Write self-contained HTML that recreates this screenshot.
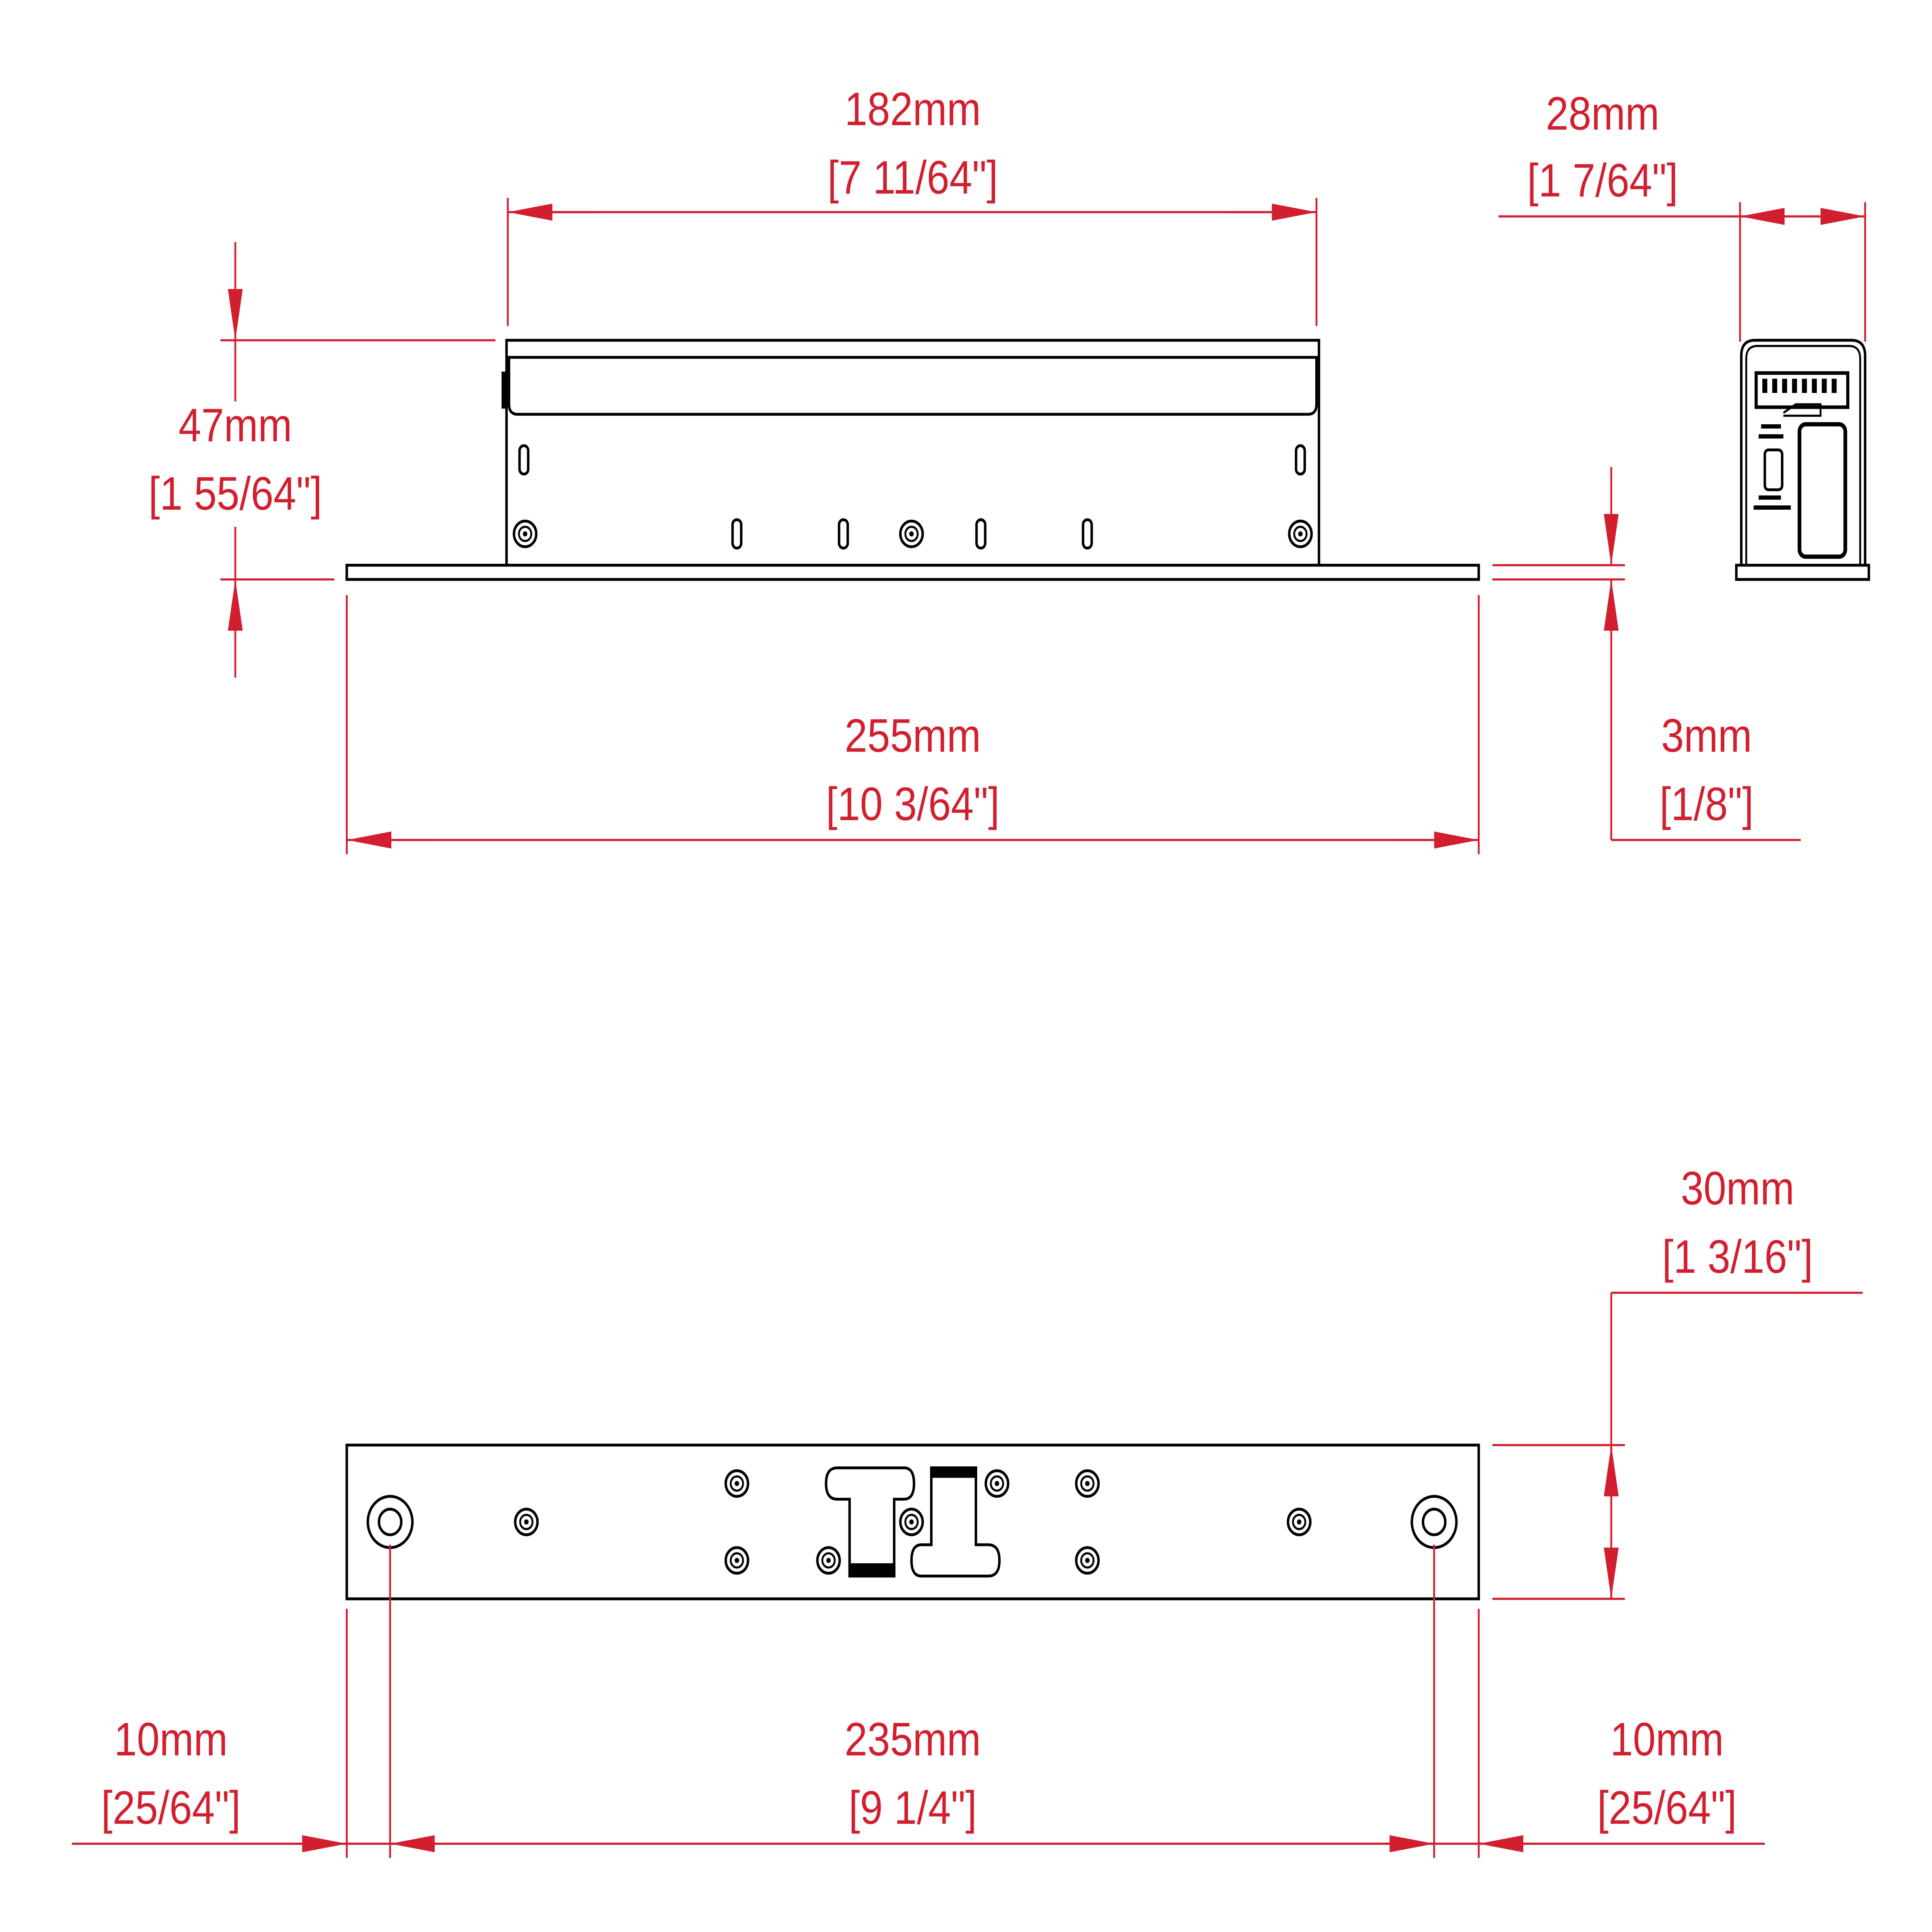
<!DOCTYPE html>
<html><head><meta charset="utf-8"><style>
html,body{margin:0;padding:0;background:#fff;width:100vw;height:100vh;overflow:hidden;}
svg{display:block;width:100vw;height:100vh;position:fixed;left:0;top:0;}
text{font-family:"Liberation Sans",sans-serif;fill:#d21f2f;font-size:33px;text-anchor:middle;}
</style></head><body>
<svg viewBox="0 0 1560 1357" preserveAspectRatio="none" xmlns="http://www.w3.org/2000/svg">
<defs>
<marker id="a" viewBox="0 0 36 12" refX="36" refY="6" markerWidth="36" markerHeight="12" markerUnits="userSpaceOnUse" orient="auto"><path d="M0,0 L36,6 L0,12 Z" fill="#d21f2f"/></marker>
<g id="scr"><circle r="9" fill="#fff" stroke="#000" stroke-width="2"/><circle r="5" fill="none" stroke="#000" stroke-width="1.5"/><circle r="1.8" fill="#000"/></g>
</defs>
<rect width="1560" height="1357" fill="#fff"/>
<g fill="none" stroke="#000" stroke-width="2">
<rect x="280" y="397" width="914" height="10"/>
<rect x="409" y="239" width="656" height="158"/>
<line x1="409" y1="251" x2="1065" y2="251"/>
<path d="M411,251 V284 Q411,291 418,291 H1056 Q1063,291 1063,284 V251"/>
<rect x="406" y="262" width="3" height="24" fill="#000"/>
<rect x="419.5" y="313" width="7" height="20" rx="3.5"/>
<rect x="1046.5" y="313" width="7" height="20" rx="3.5"/>
<rect x="591.5" y="365" width="7" height="20" rx="3.5"/>
<rect x="677.5" y="365" width="7" height="20" rx="3.5"/>
<rect x="788.5" y="365" width="7" height="20" rx="3.5"/>
<rect x="874.5" y="365" width="7" height="20" rx="3.5"/>
<path d="M1406,397 V250 Q1406,239 1417,239 H1495 Q1506,239 1506,250 V397"/>
<path d="M1410,397 V252 Q1410,243 1419,243 H1493 Q1502,243 1502,252 V397" stroke-width="1.5"/>
<rect x="1402" y="397" width="107" height="10"/>
<rect x="1418" y="262" width="74" height="24" stroke-width="2.5"/>
<rect x="1453" y="298" width="37" height="93" rx="5" stroke-width="3"/>
<rect x="1425" y="316" width="14" height="28" rx="3"/>
<path d="M1440,290 L1450,284 H1470 V292 H1440" stroke-width="1.5"/>
<rect x="280" y="1015" width="914" height="108"/>
<circle cx="315" cy="1069" r="18"/><circle cx="315" cy="1069" r="9"/>
<circle cx="1158" cy="1069" r="18"/><circle cx="1158" cy="1069" r="9"/>
<path d="M676,1031 H730 Q738,1031 738,1042 Q738,1053 730,1053 H722 V1107 H686 V1053 H676 Q667,1053 667,1042 Q667,1031 676,1031 Z"/>
<rect x="686" y="1099" width="36" height="8" fill="#000"/>
<path d="M798,1107 H744 Q736,1107 736,1096 Q736,1085 744,1085 H752 V1031 H788 V1085 H798 Q807,1085 807,1096 Q807,1107 798,1107 Z"/>
<rect x="752" y="1031" width="36" height="6" fill="#000"/>
</g>
<g>
<use href="#scr" x="424" y="375"/><use href="#scr" x="736" y="375"/><use href="#scr" x="1050" y="375"/>
<use href="#scr" x="425" y="1069"/><use href="#scr" x="595" y="1042"/><use href="#scr" x="595" y="1096"/>
<use href="#scr" x="669" y="1096"/><use href="#scr" x="736" y="1069"/><use href="#scr" x="805" y="1042"/>
<use href="#scr" x="878" y="1042"/><use href="#scr" x="878" y="1096"/><use href="#scr" x="1049" y="1069"/>
</g>
<g fill="#000">
<rect x="1423" y="266" width="4" height="10"/><rect x="1431" y="266" width="4" height="10"/><rect x="1439" y="266" width="4" height="10"/><rect x="1447" y="266" width="4" height="10"/><rect x="1455" y="266" width="4" height="10"/><rect x="1463" y="266" width="4" height="10"/><rect x="1471" y="266" width="4" height="10"/><rect x="1479" y="266" width="4" height="10"/>
<rect x="1422" y="298" width="16" height="3"/><rect x="1420" y="305" width="20" height="3"/><rect x="1420" y="348" width="18" height="3"/><rect x="1416" y="355" width="30" height="3"/>
</g>
<g stroke="#d21f2f" stroke-width="1.5" fill="none">
<line x1="410" y1="139" x2="410" y2="229"/><line x1="1063" y1="139" x2="1063" y2="229"/>
<line x1="446" y1="149" x2="1027" y2="149"/>
<line x1="480" y1="149" x2="410" y2="149" marker-end="url(#a)"/><line x1="990" y1="149" x2="1063" y2="149" marker-end="url(#a)"/>
<line x1="178" y1="239" x2="400" y2="239"/><line x1="178" y1="407" x2="270" y2="407"/>
<line x1="190" y1="170" x2="190" y2="239" marker-end="url(#a)"/><line x1="190" y1="476" x2="190" y2="407" marker-end="url(#a)"/>
<line x1="190" y1="239" x2="190" y2="282"/><line x1="190" y1="370" x2="190" y2="407"/>
<line x1="280" y1="418" x2="280" y2="600"/><line x1="1194" y1="418" x2="1194" y2="600"/>
<line x1="320" y1="590" x2="1154" y2="590"/>
<line x1="350" y1="590" x2="280" y2="590" marker-end="url(#a)"/><line x1="1124" y1="590" x2="1194" y2="590" marker-end="url(#a)"/>
<line x1="1405" y1="142" x2="1405" y2="240"/><line x1="1506" y1="142" x2="1506" y2="240"/>
<line x1="1210" y1="152" x2="1470" y2="152"/>
<line x1="1440" y1="152" x2="1405" y2="152" marker-end="url(#a)"/><line x1="1470" y1="152" x2="1506" y2="152" marker-end="url(#a)"/>
<line x1="1205" y1="397" x2="1312" y2="397"/><line x1="1205" y1="407" x2="1312" y2="407"/>
<line x1="1301" y1="328" x2="1301" y2="397" marker-end="url(#a)"/><line x1="1301" y1="590" x2="1301" y2="407" marker-end="url(#a)"/>
<line x1="1301" y1="590" x2="1454" y2="590"/>
<line x1="1205" y1="1015" x2="1312" y2="1015"/><line x1="1205" y1="1123" x2="1312" y2="1123"/>
<line x1="1301" y1="908" x2="1504" y2="908"/><line x1="1301" y1="908" x2="1301" y2="1123"/>
<line x1="1301" y1="1069" x2="1301" y2="1015" marker-end="url(#a)"/><line x1="1301" y1="1069" x2="1301" y2="1123" marker-end="url(#a)"/>
<line x1="280" y1="1130" x2="280" y2="1305"/><line x1="1194" y1="1130" x2="1194" y2="1305"/>
<line x1="315" y1="1085" x2="315" y2="1305"/><line x1="1158" y1="1085" x2="1158" y2="1305"/>
<line x1="58" y1="1295" x2="1425" y2="1295"/>
<line x1="240" y1="1295" x2="280" y2="1295" marker-end="url(#a)"/><line x1="355" y1="1295" x2="315" y2="1295" marker-end="url(#a)"/>
<line x1="1118" y1="1295" x2="1158" y2="1295" marker-end="url(#a)"/><line x1="1234" y1="1295" x2="1194" y2="1295" marker-end="url(#a)"/>
</g>
<text x="737" y="88">182mm</text><text x="737" y="136">[7 11/64"]</text>
<text x="190" y="310">47mm</text><text x="190" y="358">[1 55/64"]</text>
<text x="737" y="528">255mm</text><text x="737" y="576">[10 3/64"]</text>
<text x="1294" y="91">28mm</text><text x="1294" y="138">[1 7/64"]</text>
<text x="1378" y="528">3mm</text><text x="1378" y="576">[1/8"]</text>
<text x="1403" y="846">30mm</text><text x="1403" y="894">[1 3/16"]</text>
<text x="138" y="1233">10mm</text><text x="138" y="1281">[25/64"]</text>
<text x="737" y="1233">235mm</text><text x="737" y="1281">[9 1/4"]</text>
<text x="1346" y="1233">10mm</text><text x="1346" y="1281">[25/64"]</text>
</svg>
</body></html>
